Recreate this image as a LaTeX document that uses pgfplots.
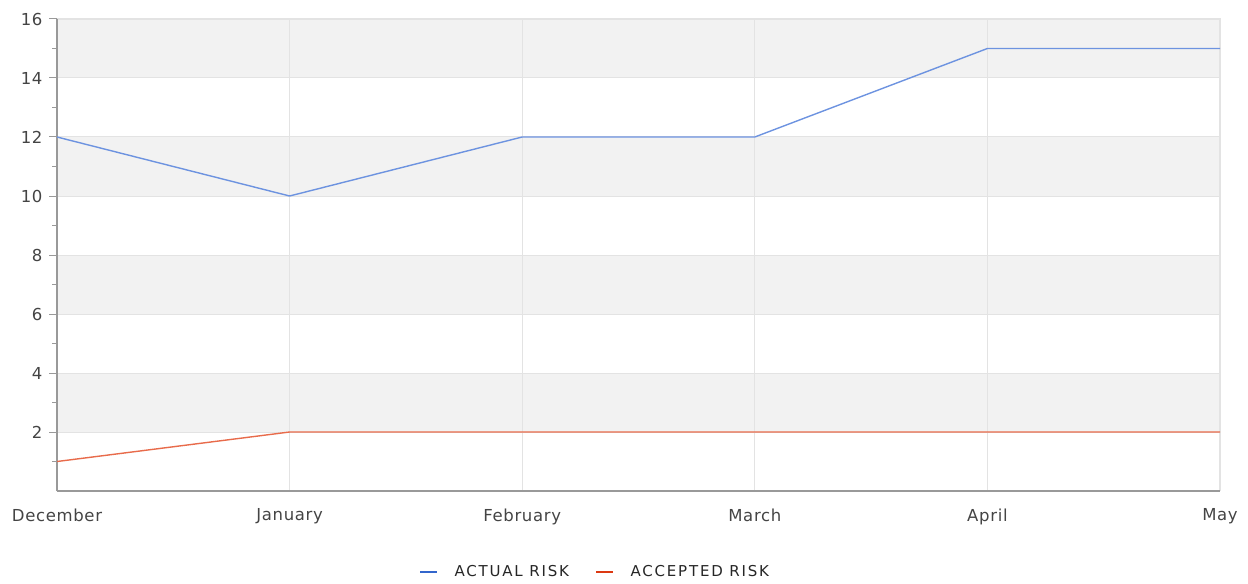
\documentclass[border=0pt]{standalone}
\usepackage{fontspec}
\setmainfont{DejaVu Sans}
\usepackage{pgfplots}
\pgfplotsset{compat=1.18}

\definecolor{actual}{HTML}{6D93E0}
\definecolor{actualkey}{HTML}{3366CC}
\definecolor{accepted}{HTML}{E86B4B}
\definecolor{acceptedkey}{HTML}{DC3912}
\definecolor{band}{HTML}{F2F2F2}
\definecolor{gridc}{HTML}{E3E3E3}
\definecolor{axisc}{HTML}{999999}
\definecolor{txt}{HTML}{444444}

\newcommand{\tickfont}{\fontsize{16.5}{19}\selectfont\addfontfeature{LetterSpace=4}}
\newcommand{\keyfont}{\fontsize{15}{18}\selectfont\addfontfeature{LetterSpace=12}}

\begin{document}
\begin{tikzpicture}
\begin{axis}[
    set layers,
    scale only axis,
    width=1163pt, height=472pt,
    xmin=0, xmax=5, ymin=0, ymax=16,
    xtick={0,...,5},
    xticklabels={December,January,February,March,April,May},
    ytick={2,4,...,16},
    minor ytick={1,3,...,15},
    axis x line*=bottom,
    axis y line*=left,
    axis line style={draw=axisc, line width=1.4pt, -},
    tick align=outside,
    major tick length=8pt,
    minor tick length=5pt,
    tick style={draw=axisc, line width=1pt},
    xtick style={draw=none},
    grid=major,
    major grid style={draw=gridc, line width=1pt},
    ticklabel style={font=\tickfont, text=txt},
    xticklabel style={yshift=-6pt},
    yticklabel style={xshift=-3pt},
    /pgf/number format/assume math mode=true,
    legend style={at={(0.4626,-0.1716)}, anchor=center, draw=none, fill=none,
        legend columns=2, font=\keyfont, text=black!85,
        /tikz/every odd column/.append style={column sep=14pt},
        /tikz/every even column/.append style={column sep=24pt}},
    legend cell align=left,
]
\begin{pgfonlayer}{axis background}
\fill[band] (axis cs:0,14) rectangle (axis cs:5,16);
\fill[band] (axis cs:0,10) rectangle (axis cs:5,12);
\fill[band] (axis cs:0,6) rectangle (axis cs:5,8);
\fill[band] (axis cs:0,2) rectangle (axis cs:5,4);
\draw[gridc, line width=1.2pt] (axis cs:5,0) -- (axis cs:5,16) -- (axis cs:0,16);
\end{pgfonlayer}
\addplot[actual, line width=1.4pt,
    legend image code/.code={\draw[actualkey, line width=2.6pt] (0pt,0pt) -- (17pt,0pt);}]
    coordinates {(0,12) (1,10) (2,12) (3,12) (4,15) (5,15)};
\addplot[accepted, line width=1.4pt,
    legend image code/.code={\draw[acceptedkey, line width=2.6pt] (0pt,0pt) -- (17pt,0pt);}]
    coordinates {(0,1) (1,2) (2,2) (3,2) (4,2) (5,2)};
\legend{ACTUAL RISK, ACCEPTED RISK}
\end{axis}
\pgfresetboundingbox
\path[use as bounding box] ([shift={(-57pt,-92pt)}]current axis.south west) rectangle ([shift={(28pt,19pt)}]current axis.north east);
\end{tikzpicture}
\end{document}
